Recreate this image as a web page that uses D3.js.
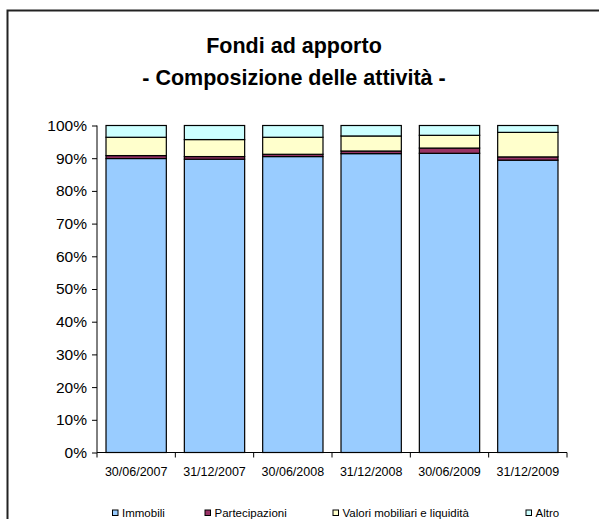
<!DOCTYPE html>
<html>
<head>
<meta charset="utf-8">
<script src="https://cdn.jsdelivr.net/npm/d3@7"></script>
<style>
  html, body { margin: 0; padding: 0; background: #fff; overflow: hidden; }
  svg { display: block; overflow: hidden; }
  text { font-family: Arial, "Liberation Sans", sans-serif; }
</style>
</head>
<body>
<svg id="chart" width="599" height="519"></svg>
<script>
var categories = ["30/06/2007", "31/12/2007", "30/06/2008", "31/12/2008", "30/06/2009", "31/12/2009"];
var seriesNames = ["Immobili", "Partecipazioni", "Valori mobiliari e liquidità", "Altro"];
var immobili = [89.9, 89.7, 90.5, 91.4, 91.5, 89.4];
var partecipazioni = [0.9, 0.8, 0.7, 0.8, 1.6, 1.0];
var valori = [5.6, 5.2, 5.2, 4.6, 3.9, 7.5];
var altro = [3.6, 4.3, 3.6, 3.2, 3.0, 2.1];
var yTicks = [0, 10, 20, 30, 40, 50, 60, 70, 80, 90, 100];
var colors = ["#99ccff", "#993366", "#ffffcc", "#ccffff"];

var svg = d3.select("#chart");

// outer frame (right and bottom edges fall outside the picture)
svg.append("rect")
    .attr("x", 7.5).attr("y", 10.5)
    .attr("width", 620).attr("height", 540)
    .attr("fill", "none")
    .attr("stroke", "#222")
    .attr("stroke-width", 2);

// title
svg.append("text")
    .attr("x", 294).attr("y", 53)
    .attr("text-anchor", "middle")
    .attr("font-size", 21.5).attr("font-weight", "bold")
    .text("Fondi ad apporto");
svg.append("text")
    .attr("x", 294).attr("y", 85)
    .attr("text-anchor", "middle")
    .attr("font-size", 21.5).attr("font-weight", "bold")
    .text("- Composizione delle attività -");

var rows = categories.map(function(c, i) {
    return { cat: c, Immobili: immobili[i], Partecipazioni: partecipazioni[i],
             "Valori mobiliari e liquidità": valori[i], Altro: altro[i] };
});
// normalize to 100%
rows.forEach(function(r) {
    var tot = d3.sum(seriesNames, function(k) { return r[k]; });
    seriesNames.forEach(function(k) { r[k] = r[k] / tot * 100; });
});

var x = d3.scaleBand()
    .domain(categories)
    .range([97, 567])
    .paddingInner(0.23)
    .paddingOuter(0.115);

var y = d3.scaleLinear()
    .domain([0, 100])
    .range([452.5, 125.5]);

var stack = d3.stack().keys(seriesNames);
var layers = stack(rows);

var g = svg.append("g");
g.selectAll("g.layer")
    .data(layers).enter()
  .append("g")
    .attr("class", "layer")
    .attr("fill", function(d, i) { return colors[i]; })
  .selectAll("rect")
    .data(function(d) { return d; }).enter()
  .append("rect")
    .attr("x", function(d) { return x(d.data.cat); })
    .attr("y", function(d) { return y(d[1]); })
    .attr("width", x.bandwidth())
    .attr("height", function(d) { return y(d[0]) - y(d[1]); })
    .attr("stroke", "black")
    .attr("stroke-width", 1.2);

// y axis
var yAxis = svg.append("g")
    .attr("transform", "translate(97,0)")
    .call(d3.axisLeft(y).tickValues(yTicks).tickSize(5).tickPadding(5)
        .tickFormat(function(d) { return d + "%"; }));
yAxis.select(".domain").attr("stroke", "black").attr("d", "M0,125.5V452.5");
yAxis.selectAll("text").attr("font-size", 15.5).attr("fill", "black")
    .attr("font-family", "Arial, 'Liberation Sans', sans-serif");

// x axis, ticks between categories
var xAxisG = svg.append("g")
    .attr("transform", "translate(0,452.5)");
xAxisG.append("path")
    .attr("d", "M97,0H567")
    .attr("stroke", "black");
var bounds = d3.range(categories.length + 1).map(function(i) {
    return i === 0 ? 97 : (i === categories.length ? 567 : x(categories[i]) - x.step() * x.paddingInner() / 2);
});
xAxisG.selectAll("line.tick")
    .data(bounds).enter()
  .append("line")
    .attr("x1", function(d) { return d; }).attr("x2", function(d) { return d; })
    .attr("y1", 0).attr("y2", 5)
    .attr("stroke", "black");
xAxisG.selectAll("text")
    .data(categories).enter()
  .append("text")
    .attr("x", function(d) { return x(d) + x.bandwidth() / 2; })
    .attr("y", 23)
    .attr("text-anchor", "middle")
    .attr("font-size", 12.5)
    .text(function(d) { return d; });

// legend
var legendX = [112.5, 205, 333, 526];
var legend = svg.selectAll("g.legend")
    .data(seriesNames).enter()
  .append("g")
    .attr("class", "legend")
    .attr("transform", function(d, i) { return "translate(" + legendX[i] + ",510)"; });
legend.append("rect")
    .attr("width", 5.5).attr("height", 5.5)
    .attr("fill", function(d, i) { return colors[i]; })
    .attr("stroke", "black").attr("stroke-width", 1);
legend.append("text")
    .attr("x", 9.5).attr("y", 7)
    .attr("font-size", 11.5)
    .text(function(d) { return d; });
</script>
</body>
</html>
